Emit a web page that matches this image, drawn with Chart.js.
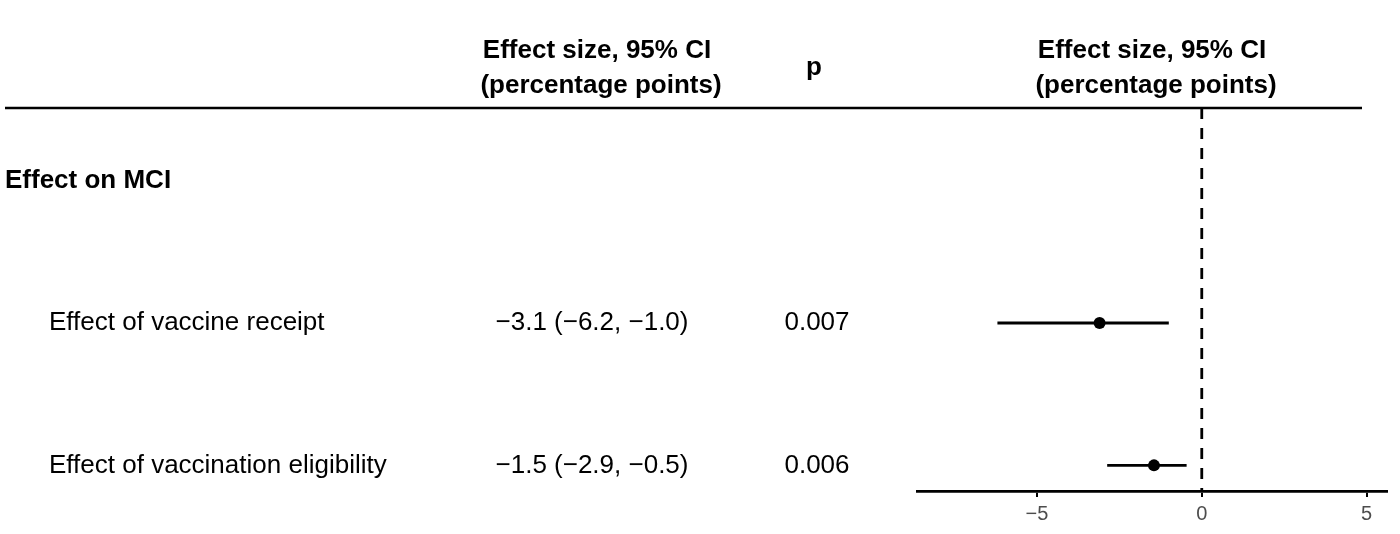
<!DOCTYPE html>
<html>
<head>
<meta charset="utf-8">
<script src="https://cdn.jsdelivr.net/npm/chart.js"></script>
<style>
  html, body { margin: 0; padding: 0; background: #fff; }
  canvas { display: block; }
</style>
</head>
<body>
<canvas id="forest" width="1400" height="534"></canvas>
<script>
// rows of the table, top to bottom (row 1 is the group heading)
const groupTitle = 'Effect on MCI'
const rowLabels = ['Effect of vaccine receipt', 'Effect of vaccination eligibility']
const rowPos = [2, 3]
const estimates = [-3.1, -1.45]
const lower = [-6.2, -2.87]
const upper = [-1.0, -0.46]
const ciText = ['\u22123.1 (\u22126.2, \u22121.0)', '\u22121.5 (\u22122.9, \u22120.5)']
const pText = ['0.007', '0.006']
const headerCI = ['Effect size, 95% CI', '(percentage points)']
const headerP = 'p'
const xTicks = [-5, 0, 5]
const xRange = [-8.64, 5.62]
const yRange = [0.49, 3.18]

const FONT = '"Liberation Sans", Arial, Helvetica, sans-serif'

const datasets = []
// confidence intervals
rowPos.forEach((r, i) => {
    datasets.push({
        data: [{ x: lower[i], y: r }, { x: upper[i], y: r }],
        showLine: true,
        borderColor: '#000',
        borderWidth: 2.8,
        pointRadius: 0
    })
})
// reference line at zero
datasets.push({
    data: [{ x: 0, y: yRange[0] }, { x: 0, y: yRange[1] }],
    showLine: true,
    borderColor: '#000',
    borderWidth: 2.8,
    borderDash: [11, 9],
    pointRadius: 0
})
// point estimates
datasets.push({
    data: rowPos.map((r, i) => ({ x: estimates[i], y: r })),
    backgroundColor: '#000',
    borderColor: '#000',
    pointRadius: 6,
    borderWidth: 0
})

// table text drawn beside the plot, rows placed through the y scale
const tablePlugin = {
    id: 'forestTable',
    afterDraw(chart) {
        const ctx = chart.ctx
        const y = chart.scales.y
        const area = chart.chartArea
        ctx.save()
        ctx.fillStyle = '#000'

        // headers
        ctx.font = 'bold 26px ' + FONT
        ctx.textAlign = 'center'
        ctx.textBaseline = 'alphabetic'
        ctx.fillText(headerCI[0], 597, 58)
        ctx.fillText(headerCI[1], 601, 93)
        ctx.fillText(headerP, 814, 75)
        ctx.fillText(headerCI[0], 1152, 58)
        ctx.fillText(headerCI[1], 1156, 93)

        // rule under the headers
        ctx.strokeStyle = '#000'
        ctx.lineWidth = 2.5
        ctx.beginPath()
        ctx.moveTo(5, area.top)
        ctx.lineTo(1362, area.top)
        ctx.stroke()

        ctx.textBaseline = 'middle'
        ctx.textAlign = 'left'
        ctx.fillText(groupTitle, 5, y.getPixelForValue(1))

        ctx.font = '26px ' + FONT
        rowPos.forEach((r, i) => {
            const py = y.getPixelForValue(r)
            ctx.textAlign = 'left'
            ctx.fillText(rowLabels[i], 49, py)
            ctx.textAlign = 'center'
            ctx.fillText(ciText[i], 592, py)
            ctx.fillText(pText[i], 817, py)
        })
        ctx.restore()
    }
}

new Chart(document.getElementById('forest'), {
    type: 'scatter',
    data: { datasets: datasets },
    plugins: [tablePlugin],
    options: {
        responsive: false,
        devicePixelRatio: 1,
        animation: false,
        layout: { padding: { left: 917, right: 13, top: 108, bottom: 3 } },
        plugins: { legend: { display: false }, tooltip: { enabled: false } },
        scales: {
            x: {
                type: 'linear',
                min: xRange[0],
                max: xRange[1],
                afterBuildTicks: (axis) => { axis.ticks = xTicks.map(v => ({ value: v })) },
                grid: { display: true, drawOnChartArea: false, drawTicks: true, tickLength: 6, color: '#000', lineWidth: 2 },
                border: { display: true, color: '#000', width: 2.8 },
                ticks: {
                    color: '#4d4d4d',
                    padding: 5,
                    font: { family: FONT, size: 20 },
                    callback: (v) => (v < 0 ? '\u2212' + Math.abs(v) : String(v))
                }
            },
            y: {
                type: 'linear',
                display: false,
                reverse: true,
                min: yRange[0],
                max: yRange[1]
            }
        }
    }
})
</script>
</body>
</html>
